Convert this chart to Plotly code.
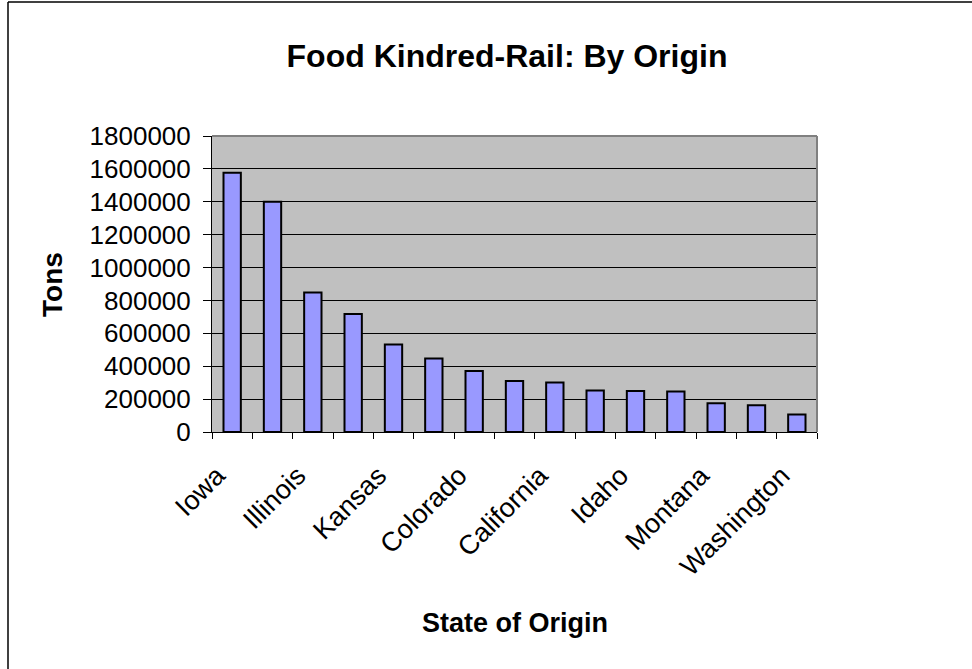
import plotly.graph_objects as go

states = ["Iowa", "Nebraska", "Illinois", "Minnesota", "Kansas", "Missouri",
          "Colorado", "North Dakota", "California", "Wisconsin", "Idaho",
          "Texas", "Montana", "South Dakota", "Washington"]
tons = [1577000, 1400000, 849000, 718000, 532000, 447000, 371000, 310000,
        301000, 252000, 250000, 246000, 175000, 163000, 106000]
shown_labels = ["Iowa", "Illinois", "Kansas", "Colorado", "California",
                "Idaho", "Montana", "Washington"]
tick_text = [s if s in shown_labels else "" for s in states]
y_ticks = list(range(0, 1800001, 200000))

W, H = 972, 669
L, R, T, B = 212, 155, 136, 237
pw, ph = W - L - R, H - T - B


def px(x):
    return (x - L) / pw


def py(y):
    return (H - B - y) / ph


font = "Liberation Sans, Arial, sans-serif"

fig = go.Figure(go.Bar(
    x=states, y=tons,
    marker=dict(color="#9999FF", line=dict(color="black", width=2)),
    width=0.43,
))

fig.update_layout(
    width=W, height=H,
    margin=dict(l=L, r=R, t=T, b=B, autoexpand=False),
    paper_bgcolor="white",
    plot_bgcolor="#C0C0C0",
    showlegend=False,
    font=dict(family=font, color="black"),
    title=dict(text="<b>Food Kindred-Rail: By Origin</b>", xref="container",
               x=507 / W, xanchor="center", yref="container",
               y=1 - 56 / H, yanchor="middle", font=dict(size=32, family=font)),
    xaxis=dict(
        type="category", tickvals=states, ticktext=tick_text, tickangle=-45,
        tickfont=dict(size=27), ticks="outside", tickson="boundaries",
        ticklen=6, tickcolor="black", showline=True, linecolor="black",
        linewidth=1, showgrid=False, automargin=False,
        ticklabelstandoff=16, ticklabelshift=-15,
        range=[-0.5, len(states) - 0.5],
    ),
    yaxis=dict(
        range=[0, 1800000], tickvals=y_ticks, ticktext=[str(v) for v in y_ticks],
        tickfont=dict(size=26), ticks="outside", ticklen=8, tickcolor="black",
        ticklabelstandoff=7,
        showline=True, linecolor="black", linewidth=1,
        showgrid=True, gridcolor="black", gridwidth=1, zeroline=False,
        automargin=False,
    ),
    annotations=[
        dict(text="<b>Tons</b>", x=px(52), y=py(285), xref="paper", yref="paper",
             xanchor="center", yanchor="middle",
             showarrow=False, textangle=-90, font=dict(size=28, family=font)),
        dict(text="<b>State of Origin</b>", x=px(515), y=py(623), xref="paper",
             yref="paper", xanchor="center", yanchor="middle",
             showarrow=False, font=dict(size=27, family=font)),
    ],
    shapes=[
        dict(type="line", xref="paper", yref="paper", x0=0, x1=1, y0=1, y1=1,
             line=dict(color="#808080", width=2)),
        dict(type="line", xref="paper", yref="paper", x0=1, x1=1, y0=0, y1=1,
             line=dict(color="#808080", width=2)),
        dict(type="line", xref="paper", yref="paper", x0=px(8), x1=px(8),
             y0=py(2), y1=py(700), line=dict(color="black", width=1.5)),
        dict(type="line", xref="paper", yref="paper", x0=px(8), x1=px(1000),
             y0=py(2), y1=py(2), line=dict(color="black", width=1.5)),
    ],
)

fig.write_html("out.html")
